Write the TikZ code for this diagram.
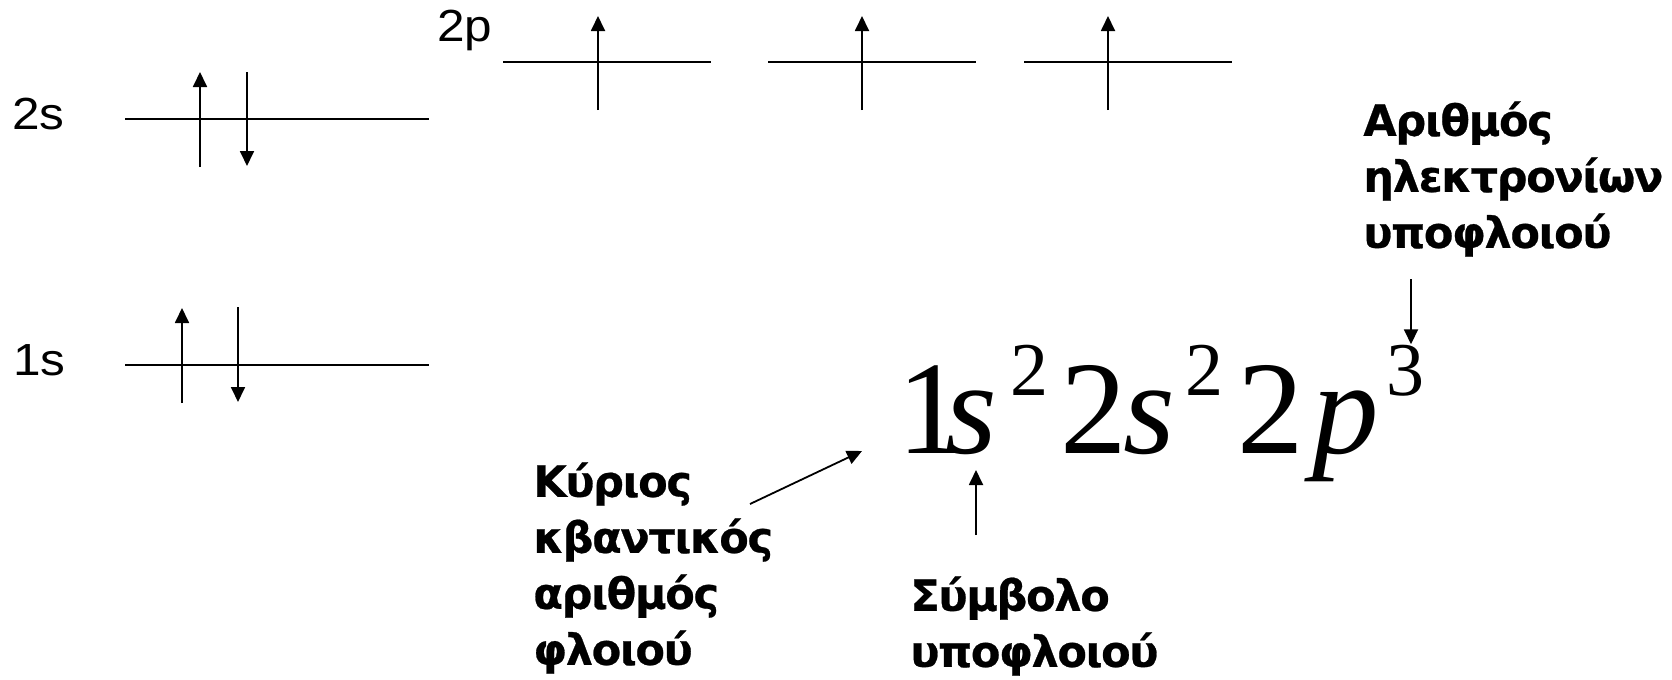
\documentclass[tikz,border=0pt]{standalone}
\usepackage{fontspec}
\setmainfont{Liberation Sans}
\newfontfamily\orbfont{Liberation Sans}[FakeStretch=1.1]
\newfontfamily\lblfont{DejaVu Sans}[LetterSpace=-3, BoldFeatures={FakeBold=0.6}]
\newfontfamily\eqfont{Liberation Serif}
\usetikzlibrary{arrows.meta, positioning}

\begin{document}
\begin{tikzpicture}[
    x=0.5pt, y=-0.5pt,
    level/.style={line width=1.1pt},
    spin/.style={line width=0.9pt, -{Triangle[length=7.5pt, width=7pt]}},
    orb/.style={font=\orbfont\fontsize{22.5}{25}\selectfont, inner sep=0pt, anchor=base west},
    lbl/.style={font=\lblfont\bfseries\fontsize{21.5}{28}\selectfont, align=left, inner sep=0pt, anchor=north west},
    glyph/.style={font=\eqfont\fontsize{66.5}{70}\selectfont, inner sep=0pt, anchor=base west},
    supglyph/.style={font=\eqfont\fontsize{38}{40}\selectfont, inner sep=0pt, anchor=base west},
    arr/.style={line width=0.9pt, -{Triangle[length=7.5pt, width=7pt]}}
]
\useasboundingbox (0,0) rectangle (1672,680);

% energy levels
\node[orb] (l2p) at (437,41) {2p};
\node[orb] (l2s) at (12,129) {2s};
\node[orb] (l1s) at (13,375) {1s};
\draw[level] (125,119) -- (429,119);
\draw[level] (125,365) -- (429,365);
\foreach \a/\b in {503/711, 768/976, 1024/1232} \draw[level] (\a,62) -- (\b,62);

% electrons
\draw[spin] (200,167) -- (200,72);
\draw[spin] (247,72) -- (247,166);
\draw[spin] (182,403) -- (182,308);
\draw[spin] (238,307) -- (238,402);
\foreach \x in {598, 862, 1108} \draw[spin] (\x,110) -- (\x,16);

% configuration 1s2 2s2 2p3
\foreach \x/\t/\n in {897/1/n1, 945/\textit{s}/s1, 1060/2/n2, 1123/\textit{s}/s2, 1237/2/n3, 1312/\textit{p}/p3}
  \node[glyph] (\n) at (\x,453) {\t};
\foreach \x/\t/\n in {1010/2/e1, 1185/2/e2, 1386/3/e3}
  \node[supglyph] (\n) at (\x,395) {\t};

% labels
\node[lbl] (nelec) at (1363,101) {Αριθμός\\ηλεκτρονίων\\υποφλοιού};
\node[lbl] (nquant) at (533,462) {Κύριος\\κβαντικός\\αριθμός\\φλοιού};
\node[lbl] (subsym) at (910,576) {Σύμβολο\\υποφλοιού};

% pointers
\coordinate (ntip) at (862,451);
\coordinate (symtip) at (976,470);
\coordinate (eltail) at (1411,279);
\draw[arr] ([shift={(217,42)}]nquant.north west) -- (ntip);
\draw[arr] (subsym.north -| symtip) ++(0,-41) -- (symtip);
\draw[arr] (eltail) -- (e3.north -| eltail);
\end{tikzpicture}
\end{document}
